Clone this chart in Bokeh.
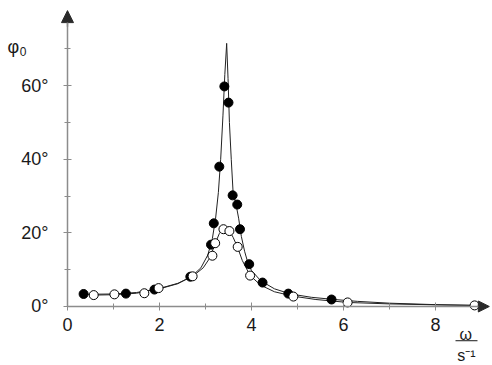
from bokeh.plotting import figure
from bokeh.models import Range1d, FixedTicker, Arrow, NormalHead, Label
from bokeh.embed import file_html
from bokeh.resources import INLINE

# ---- data ----
# measured points, weak damping (filled markers)
filled_w = [0.35, 1.27, 1.89, 2.67, 3.12, 3.18, 3.30, 3.41, 3.50, 3.59, 3.69, 3.75, 3.95, 4.24, 4.80, 5.74]
filled_phi = [3.4, 3.5, 4.6, 8.1, 16.8, 22.6, 38.0, 59.8, 55.4, 30.2, 27.7, 21.0, 11.5, 6.5, 3.5, 1.9]

# measured points, stronger damping (open markers)
open_w = [0.57, 1.02, 1.67, 1.98, 2.72, 3.15, 3.21, 3.39, 3.52, 3.70, 3.97, 4.91, 6.09, 8.85]
open_phi = [3.1, 3.3, 3.6, 5.0, 8.2, 13.8, 17.2, 21.0, 20.5, 16.2, 8.4, 2.7, 1.1, 0.3]

# drawn resonance curves
curve1_w = [0.35, 1.0, 1.5, 2.0, 2.4, 2.7, 2.9, 3.05, 3.15, 3.22, 3.28, 3.33, 3.38, 3.42, 3.46,
            3.49, 3.52, 3.56, 3.60, 3.66, 3.72, 3.78, 3.85, 3.93, 4.0, 4.2, 4.5, 4.85, 5.3, 5.8,
            6.3, 7.0, 8.0, 8.9]
curve1_phi = [3.3, 3.4, 3.8, 4.8, 6.2, 8.2, 10.5, 14.0, 18.5, 24.0, 31.0, 40.0, 52.0, 63.0, 71.5,
              62.0, 50.0, 40.0, 31.0, 28.0, 24.0, 19.0, 15.0, 11.5, 9.8, 7.0, 4.8, 3.4, 2.5, 1.9,
              1.4, 0.9, 0.5, 0.3]

curve2_w = [0.57, 1.0, 1.5, 2.0, 2.4, 2.72, 2.95, 3.1, 3.2, 3.3, 3.38, 3.45, 3.52, 3.6, 3.7,
            3.8, 3.97, 4.2, 4.5, 4.91, 5.4, 6.09, 7.0, 8.0, 8.85]
curve2_phi = [3.1, 3.2, 3.6, 4.9, 6.3, 8.2, 10.5, 13.3, 16.8, 19.8, 21.2, 21.6, 20.6, 18.8, 16.0,
              12.5, 8.4, 5.8, 4.0, 2.8, 1.9, 1.1, 0.7, 0.45, 0.3]

x_ticks = [0, 2, 4, 6, 8]
x_minor = [1, 3, 5, 7]
y_ticks = [0, 20, 40, 60]
y_minor = [10, 30, 50, 70]
y_tick_labels = {0: "0°", 20: "20°", 40: "40°", 60: "60°"}

FONT = "Liberation Sans"
AXIS_COL = "#8c8c8c"
TXT_COL = "#1a1a1a"

p = figure(width=490, height=363,
           x_range=Range1d(-1.4565, 9.1957), y_range=Range1d(-15.49, 83.15),
           output_backend="svg", toolbar_location=None,
           min_border_left=0, min_border_right=0, min_border_top=0, min_border_bottom=0)
p.grid.visible = False
p.outline_line_color = None

p.xaxis.fixed_location = 0
p.yaxis.fixed_location = 0
p.xaxis.bounds = (0, 9.1)
p.yaxis.bounds = (0, 80)

for ax in (p.xaxis[0], p.yaxis[0]):
    ax.axis_line_color = AXIS_COL
    ax.axis_line_width = 1.5
    ax.major_tick_line_color = AXIS_COL
    ax.minor_tick_line_color = AXIS_COL
    ax.major_tick_in = 4
    ax.major_tick_out = 4
    ax.minor_tick_in = 3
    ax.minor_tick_out = 3
    ax.major_label_text_font = FONT
    ax.major_label_text_font_size = "18px"
    ax.major_label_text_color = TXT_COL

p.xaxis.ticker = FixedTicker(ticks=x_ticks, minor_ticks=x_minor)
p.yaxis.ticker = FixedTicker(ticks=y_ticks, minor_ticks=y_minor)
p.yaxis.major_label_overrides = y_tick_labels
p.yaxis.major_label_standoff = 15
p.xaxis.major_label_standoff = 8

# curves
p.line(curve1_w, curve1_phi, line_color="#222222", line_width=1)
p.line(curve2_w, curve2_phi, line_color="#222222", line_width=1)

# markers
p.scatter(filled_w, filled_phi, size=9, marker="circle", fill_color="black", line_color="black")
p.scatter(open_w, open_phi, size=9, marker="circle", fill_color="white", line_color="black", line_width=1)

# axis arrows
p.add_layout(Arrow(end=NormalHead(size=12, fill_color="#2a2a2a", line_color="#2a2a2a"),
                   x_start=0, y_start=76, x_end=0, y_end=80.4, line_color=AXIS_COL, line_width=1.5))
p.add_layout(Arrow(end=NormalHead(size=11, fill_color="#2a2a2a", line_color="#2a2a2a"),
                   x_start=8.9, y_start=0, x_end=9.17, y_end=0, line_color=AXIS_COL, line_width=1.5))

# axis titles
p.add_layout(Label(x=-1.304, y=70.4, text="φ", text_font=FONT, text_font_size="18px",
                   text_color=TXT_COL, text_baseline="alphabetic", text_align="left"))
p.add_layout(Label(x=-1.04, y=69.3, text="0", text_font=FONT, text_font_size="12px",
                   text_color=TXT_COL, text_baseline="alphabetic", text_align="left"))
p.add_layout(Label(x=8.66, y=-7.6, text="ω", text_font=FONT, text_font_size="16px",
                   text_color=TXT_COL, text_baseline="alphabetic", text_align="center"))
p.add_layout(Arrow(start=None, end=None, x_start=8.435, y_start=-9.3, x_end=8.913, y_end=-9.3,
                   line_color=TXT_COL, line_width=1))
p.add_layout(Label(x=8.67, y=-13.3, text="s⁻¹", text_font=FONT, text_font_size="16px",
                   text_color=TXT_COL, text_baseline="alphabetic", text_align="center"))

open("out.html", "w").write(file_html(p, INLINE))
